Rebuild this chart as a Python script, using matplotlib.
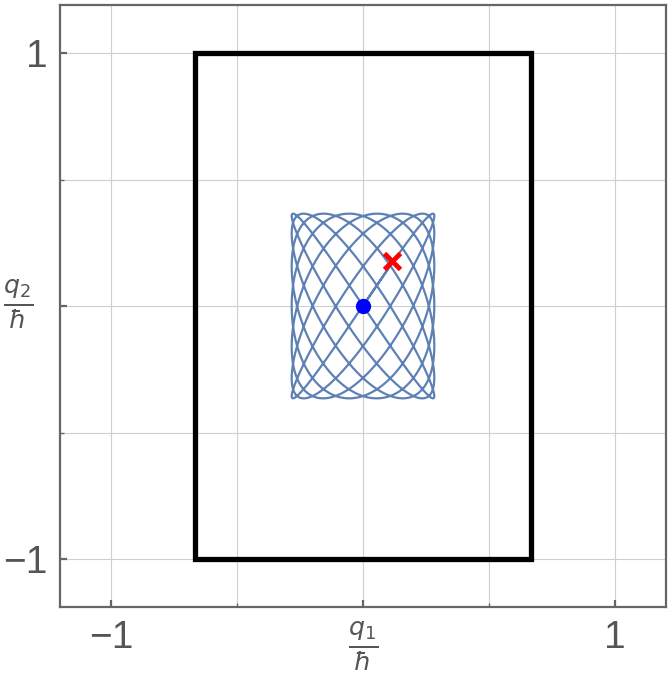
import numpy as np
import matplotlib
matplotlib.use("Agg")
import matplotlib.pyplot as plt
from matplotlib.patches import Rectangle

# ---- data ----
amp_x = 0.283          # q1 amplitude of the trajectory
amp_y = 0.365          # q2 amplitude of the trajectory
freq_ratio = 1.143     # omega2 / omega1
n_cycles = 7           # number of q1 oscillations
start_point = (0.0, 0.0)
end_point = (0.115, 0.178)
box_x = [-2/3, 2/3]
box_y = [-1.0, 1.0]
tick_vals = [-1, 0, 1]
tick_labels = ["\u22121", "", "1"]
minor_vals = [-0.5, 0.5]

t_end = 2*np.pi*n_cycles + np.arcsin(end_point[0]/amp_x)
t = np.linspace(0, t_end, 12000)
q1 = amp_x*np.sin(t)
q2 = amp_y*np.sin(freq_ratio*t)

fig = plt.figure(figsize=(6.68, 6.75), dpi=100)
ax = fig.add_axes([60/668, 1-607/675, 606/668, 602/675])
ax.set_xlim(-303/252, 303/252)
ax.set_ylim(-301/253, 301/253)

gray = "#666666"
for v in tick_vals + minor_vals:
    ax.axvline(v, color="#cfcfcf", lw=0.8, zorder=0)
    ax.axhline(v, color="#cfcfcf", lw=0.8, zorder=0)

ax.plot(q1, q2, color="#5e81b5", lw=1.6, zorder=2)
ax.add_patch(Rectangle((box_x[0], box_y[0]), box_x[1]-box_x[0], box_y[1]-box_y[0],
                       fill=False, ec="black", lw=3.8, zorder=3))
ax.plot(*start_point, "o", color="blue", ms=10, zorder=4)
ax.plot(*end_point, "x", color="red", ms=12, mew=3.5, zorder=4)

for s in ax.spines.values():
    s.set_color(gray); s.set_linewidth(1.6)
ax.set_xticks(tick_vals); ax.set_yticks(tick_vals)
ax.set_xticks(minor_vals, minor=True); ax.set_yticks(minor_vals, minor=True)
ax.set_xticklabels(tick_labels); ax.set_yticklabels(tick_labels)
ax.tick_params(which="major", direction="in", length=5, width=1.6, color=gray,
               labelsize=28, labelcolor="#555555", pad=9)
ax.tick_params(which="minor", direction="in", length=3, width=1.0, color=gray)
for lab in ax.get_xticklabels() + ax.get_yticklabels():
    lab.set_fontfamily("Liberation Sans")

ax.text(0, -0.022, r"$\frac{q_1}{\hbar}$", transform=ax.get_xaxis_transform(),
        ha="center", va="top", fontsize=26, color="#555555")
ax.text(-0.045, 0.005, r"$\frac{q_2}{\hbar}$", transform=ax.get_yaxis_transform(),
        ha="right", va="center", fontsize=26, color="#555555")

fig.savefig("out.png", dpi=100)
